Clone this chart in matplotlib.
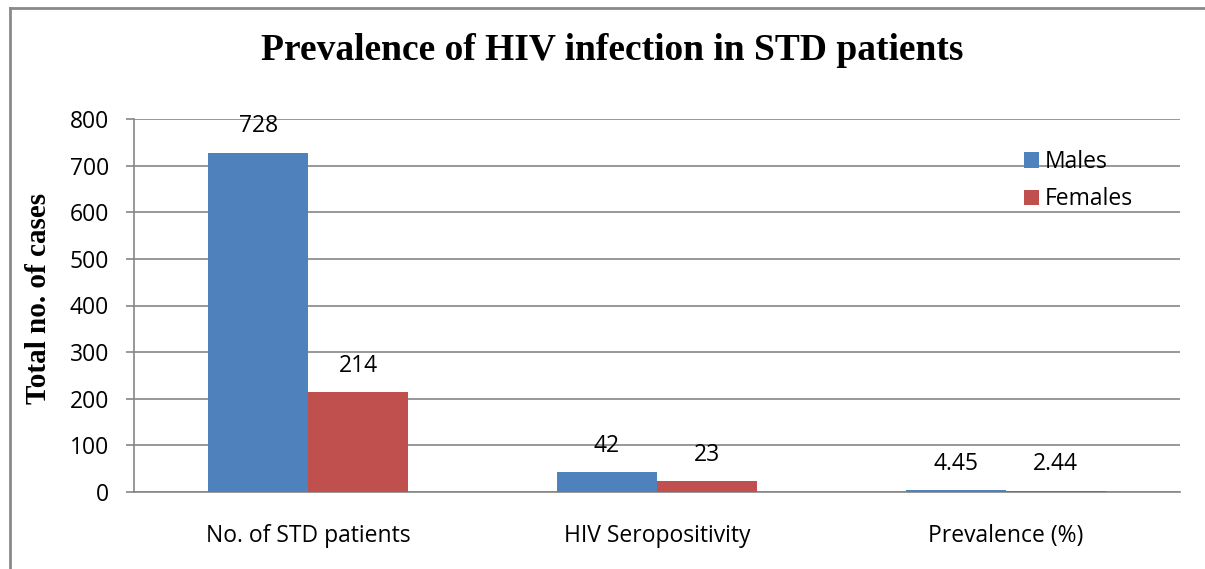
import matplotlib
matplotlib.use("Agg")
import matplotlib.pyplot as plt
import numpy as np
from matplotlib.lines import Line2D

categories = ["No. of STD patients", "HIV Seropositivity", "Prevalence (%)"]
males = [728, 42, 4.45]
females = [214, 23, 2.44]
male_labels = ["728", "42", "4.45"]
female_labels = ["214", "23", "2.44"]
yticks = [0, 100, 200, 300, 400, 500, 600, 700, 800]

W, H = 1205, 569
fig = plt.figure(figsize=(W / 100, H / 100), dpi=100)
ax = fig.add_axes([134 / W, 1 - 492 / H, (1180 - 134) / W, (492 - 119) / H])

x = np.arange(len(categories))
bw = 0.287
cm = "#4F81BD"
cf = "#C0504D"
grid = "#868686"
b1 = ax.bar(x - bw / 2, males, bw, color=cm, label="Males", zorder=3)
b2 = ax.bar(x + bw / 2, females, bw, color=cf, label="Females", zorder=3)

tfont = "Open Sans"
fs = 16.5
for bars, labs in ((b1, male_labels), (b2, female_labels)):
    for r, t in zip(bars, labs):
        ax.annotate(t, (r.get_x() + r.get_width() / 2, r.get_height()),
                    xytext=(0, 19), textcoords="offset points", ha="center",
                    va="center", fontsize=fs, family=tfont, color="#000000")

ax.set_xlim(-0.5, 2.5)
ax.set_ylim(0, 800)
ax.set_yticks(yticks)
ax.set_yticklabels([str(v) for v in yticks], fontsize=fs, family=tfont)
ax.set_xticks(x)
ax.set_xticklabels(categories, fontsize=fs, family=tfont)
ax.tick_params(axis="x", length=0, pad=23)
ax.tick_params(axis="y", length=6, width=1.2, color=grid, pad=12)
ax.yaxis.grid(True, color=grid, linewidth=1.2, zorder=0)
ax.set_axisbelow(True)
for s in ["top", "right"]:
    ax.spines[s].set_visible(False)
ax.spines["left"].set_color(grid)
ax.spines["left"].set_linewidth(1.2)
ax.spines["bottom"].set_color(grid)
ax.spines["bottom"].set_linewidth(1.2)

ax.set_ylabel("Total no. of cases", fontsize=21, fontweight="bold",
              family="Liberation Serif")
ax.yaxis.set_label_coords((52 - 134) / (1180 - 134), (492 - 298) / 373)
fig.text(612 / W, 1 - 51 / H, "Prevalence of HIV infection in STD patients",
         ha="center", va="center", fontsize=27, fontweight="bold",
         family="Liberation Serif")

leg = ax.legend(loc="upper left",
                bbox_to_anchor=((1024 - 134) / (1180 - 134), 1 - (150 - 119) / 373),
                frameon=False, prop={"family": tfont, "size": fs},
                handlelength=0.65, handleheight=0.65, handletextpad=0.25,
                labelspacing=0.58, borderpad=0, borderaxespad=0)

# figure border (left and top visible)
fig.add_artist(Line2D([10 / W, 10 / W], [0, 1 - 8 / H], transform=fig.transFigure,
                      color="#8a8a8a", linewidth=2))
fig.add_artist(Line2D([10 / W, 1], [1 - 8 / H, 1 - 8 / H], transform=fig.transFigure,
                      color="#8a8a8a", linewidth=2))

fig.savefig("out.png", dpi=100)
